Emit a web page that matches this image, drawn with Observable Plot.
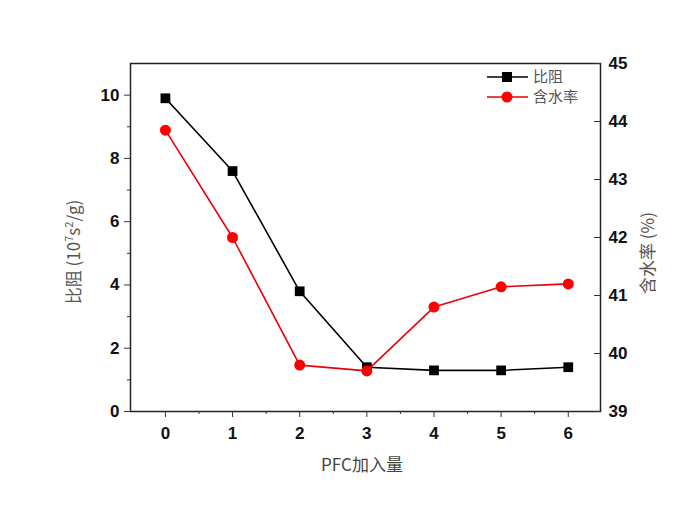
<!DOCTYPE html>
<html>
<head>
<meta charset="utf-8">
<script src="https://cdn.jsdelivr.net/npm/d3@7"></script>
<script src="https://cdn.jsdelivr.net/npm/@observablehq/plot@0.6"></script>
<style>
  html, body { margin: 0; padding: 0; background: #fff; }
  #chart { width: 700px; height: 515px; }
</style>
</head>
<body>
<div id="chart"></div>
<script>
const doses = [0, 1, 2, 3, 4, 5, 6];
const resistance = [9.9, 7.6, 3.8, 1.4, 1.3, 1.3, 1.4];      // 比阻 (10^7 s^2/g)
const moisture = [43.85, 42.0, 39.8, 39.7, 40.8, 41.15, 41.2]; // 含水率 (%)
const leftTicks = [0, 2, 4, 6, 8, 10];
const leftMinor = [1, 3, 5, 7, 9];
const rightTicks = [39, 40, 41, 42, 43, 44, 45];
const xTicks = [0, 1, 2, 3, 4, 5, 6];
const xMinor = [0.5, 1.5, 2.5, 3.5, 4.5, 5.5];
const seriesNames = ["比阻", "含水率"];

const yMax = 11, rMin = 39, rMax = 45;
const toLeft = v => (v - rMin) * yMax / (rMax - rMin);

const black = doses.map((d, i) => ({x: d, y: resistance[i]}));
const red = doses.map((d, i) => ({x: d, y: toLeft(moisture[i])}));

const chart = Plot.plot({
  width: 700,
  height: 515,
  marginLeft: 130,
  marginRight: 100,
  marginTop: 63,
  marginBottom: 104,
  style: {fontFamily: "'Liberation Sans', Arial, sans-serif", background: "#fff"},
  x: {domain: [-0.52, 6.48]},
  y: {domain: [0, yMax]},
  marks: [
    Plot.frame({stroke: "#222", strokeWidth: 1.5}),
    // left axis
    Plot.axisY(leftTicks, {anchor: "left", tickSize: 6, tickPadding: 5, fill: "#111", stroke: "#333", label: null}),
    Plot.axisY(leftMinor, {anchor: "left", tickSize: 3, tickFormat: () => "", stroke: "#333", label: null}),
    // bottom axis
    Plot.axisX(xTicks, {anchor: "bottom", tickSize: 6, tickPadding: 9, fill: "#111", stroke: "#333", label: null}),
    Plot.axisX(xMinor, {anchor: "bottom", tickSize: 3, tickFormat: () => "", stroke: "#333", label: null}),
    // right axis (ticks inward)
    Plot.axisY(rightTicks.map(toLeft), {anchor: "right", tickSize: 7, dx: -7, tickFormat: () => "", stroke: "#333", label: null}),
    Plot.axisY(rightTicks.map(toLeft), {anchor: "right", tickSize: 0, tickPadding: 8, tickFormat: (d) => d3.format("d")(Math.round(d * (rMax - rMin) / yMax + rMin)), fill: "#111", label: null}),
    // series
    Plot.line(black, {x: "x", y: "y", stroke: "#000", strokeWidth: 1.6}),
    Plot.dot(black, {x: "x", y: "y", symbol: "square", r: 5.5, fill: "#000", stroke: "none"}),
    Plot.line(red, {x: "x", y: "y", stroke: "#e8000b", strokeWidth: 1.6}),
    Plot.dot(red, {x: "x", y: "y", symbol: "circle", r: 5.5, fill: "#ff0000", stroke: "none"})
  ]
});

const svg = d3.select(chart);
// enlarge tick labels (all Plot-generated text is tick labels here)
svg.selectAll("text")
  .style("font-size", "17px")
  .style("font-weight", "bold")
  .style("font-family", "'Liberation Sans', Arial, sans-serif");

const cjk = "'Noto Sans CJK SC', 'Liberation Sans', sans-serif";
// axis titles
svg.append("text")
  .attr("transform", "translate(80,252) rotate(-90)")
  .attr("text-anchor", "middle")
  .attr("fill", "#555")
  .attr("font-size", 17)
  .attr("font-family", cjk)
  .html("比阻 (10<tspan dy='-7' font-size='11'>7</tspan><tspan dy='7'>s</tspan><tspan dy='-7' font-size='11'>2</tspan><tspan dy='7'>/g)</tspan>");
svg.append("text")
  .attr("transform", "translate(654,253) rotate(-90)")
  .attr("text-anchor", "middle")
  .attr("fill", "#555")
  .attr("font-size", 17)
  .attr("font-family", cjk)
  .text("含水率 (%)");
svg.append("text")
  .attr("x", 362).attr("y", 471)
  .attr("text-anchor", "middle")
  .attr("fill", "#444")
  .attr("font-size", 17)
  .attr("font-family", cjk)
  .text("PFC加入量");

// legend inside frame
const lg = svg.append("g").attr("font-family", cjk).attr("text-anchor", "start");
const items = [{name: seriesNames[0], color: "#000", sym: "square", y: 77}, {name: seriesNames[1], color: "#e8000b", sym: "circle", y: 97}];
items.forEach(it => {
  lg.append("line").attr("x1", 487).attr("x2", 528).attr("y1", it.y).attr("y2", it.y).attr("stroke", it.color).attr("stroke-width", 1.6);
  if (it.sym === "square") lg.append("rect").attr("x", 502).attr("y", it.y - 5).attr("width", 10).attr("height", 10).attr("fill", "#000");
  else lg.append("circle").attr("cx", 507).attr("cy", it.y).attr("r", 5.5).attr("fill", "#ff0000");
  lg.append("text").attr("x", 533).attr("y", it.y).attr("dy", "0.35em").attr("font-size", 15).attr("fill", "#555").text(it.name);
});

document.getElementById("chart").appendChild(chart);
</script>
</body>
</html>
